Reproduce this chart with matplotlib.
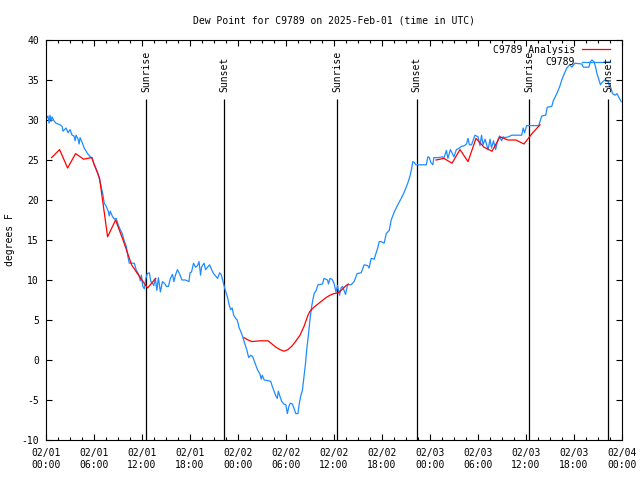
"""
Dew point time series for station C9789, obs vs analysis, with
sunrise / sunset markers. Gnuplot-like look.
"""

### Import modules
import numpy as np
import matplotlib
matplotlib.use('Agg')
import matplotlib.pyplot as plt
from matplotlib.ticker import MultipleLocator

### Observed dew point (hours since 02/01 00:00 UTC, deg F)
obs_hr = [0.00, 0.13, 0.25, 0.38, 0.50, 0.63, 0.75, 1.00, 1.25, 1.76,
          2.01, 2.13, 2.51, 2.76, 3.01, 3.26, 3.51, 3.64, 3.76, 4.01,
          4.14, 4.26, 4.52, 4.77, 5.02, 5.27, 5.52, 5.77, 6.02, 6.27,
          6.46, 6.65, 6.90, 7.09, 7.28, 7.53, 7.78, 7.90, 8.03, 8.28,
          8.53, 8.78, 9.03, 9.28, 9.53, 9.78, 10.04, 10.22, 10.41, 10.66,
          11.04, 11.29, 11.48, 11.67, 11.79, 11.92, 12.10, 12.29, 12.48, 12.67,
          12.92, 13.11, 13.30, 13.48, 13.67, 13.86, 14.05, 14.30, 14.55, 14.80,
          15.05, 15.30, 15.55, 15.81, 15.99, 16.18, 16.43, 16.68, 17.00, 17.44,
          17.87, 18.00, 18.19, 18.44, 18.69, 18.94, 19.13, 19.32, 19.44, 19.76,
          19.94, 20.20, 20.45, 20.70, 20.95, 21.20, 21.45, 21.70, 21.89, 22.08,
          22.33, 22.52, 22.70, 22.89, 23.08, 23.27, 23.46, 23.71, 23.90, 24.15,
          24.33, 24.52, 24.77, 25.09, 25.34, 25.59, 25.84, 26.09, 26.28, 26.47,
          26.72, 26.91, 27.03, 27.28, 27.85, 28.10, 28.29, 28.47, 28.73, 28.91,
          29.04, 29.23, 29.48, 29.73, 29.98, 30.17, 30.36, 30.54, 30.80, 30.98,
          31.23, 31.49, 31.67, 31.86, 32.05, 32.24, 32.43, 32.61, 32.80, 32.99,
          33.18, 33.37, 33.55, 33.74, 33.99, 34.56, 34.75, 35.19, 35.31, 35.50,
          35.75, 36.00, 36.25, 36.44, 36.56, 36.69, 36.88, 37.07, 37.44, 37.69,
          38.13, 38.51, 38.89, 39.39, 39.77, 40.21, 40.39, 40.64, 41.02, 41.46,
          41.65, 41.90, 42.27, 42.53, 42.90, 43.15, 43.53, 43.97, 44.40, 44.78,
          45.22, 45.53, 45.72, 45.85, 46.04, 46.22, 47.54, 47.73, 47.92, 48.10,
          48.36, 48.48, 49.05, 49.55, 49.73, 50.05, 50.24, 50.55, 50.99, 51.30,
          51.68, 51.93, 52.31, 52.56, 52.75, 52.93, 53.19, 53.62, 54.00, 54.25,
          54.44, 54.63, 54.88, 55.26, 55.51, 55.69, 55.94, 56.20, 56.51, 56.70,
          56.95, 57.14, 57.33, 57.83, 58.21, 58.83, 59.46, 59.65, 59.83, 60.08,
          61.59, 61.78, 61.97, 62.47, 62.66, 63.22, 63.41, 63.85, 64.22, 64.47,
          64.79, 65.10, 65.48, 65.73, 66.11, 66.98, 67.17, 67.86, 68.05, 68.24,
          68.49, 68.68, 68.87, 69.12, 69.31, 69.50, 69.87, 70.25, 70.43, 70.62,
          70.81, 71.12, 71.37, 71.62, 71.90]
obs_td = [30.5, 30.3, 30.5, 29.6, 30.6, 29.8, 30.4, 29.9, 29.6, 29.4,
          29.2, 28.6, 29.0, 28.4, 28.8, 28.1, 28.0, 27.4, 28.1, 27.6,
          27.0, 27.8, 27.2, 26.5, 26.1, 25.7, 25.4, 25.3, 24.4, 23.9,
          23.4, 22.7, 21.6, 20.8, 19.6, 19.2, 18.6, 18.0, 18.6, 18.0,
          17.6, 17.7, 16.9, 16.3, 15.8, 14.9, 14.2, 13.0, 12.1, 12.1,
          12.1, 11.2, 10.9, 10.5, 9.9, 10.6, 9.2, 8.9, 10.2, 10.8,
          10.9, 9.8, 9.6, 9.3, 10.2, 8.7, 10.3, 8.5, 9.8, 9.6,
          9.2, 9.2, 10.2, 10.7, 9.8, 10.6, 11.3, 10.8, 10.0, 10.0,
          9.8, 10.9, 11.0, 12.1, 11.6, 11.8, 12.3, 10.6, 11.6, 12.1,
          11.3, 11.6, 11.9, 11.3, 10.8, 10.5, 10.2, 10.9, 10.7, 10.0,
          9.0, 8.4, 7.8, 6.9, 6.3, 6.5, 5.6, 5.2, 5.0, 4.0,
          3.6, 3.1, 2.3, 1.3, 0.3, 0.6, 0.4, -0.3, -0.8, -1.3,
          -1.7, -2.4, -1.9, -2.5, -2.6, -2.7, -3.3, -3.8, -4.5, -4.8,
          -3.9, -4.5, -5.2, -5.5, -5.6, -6.7, -5.8, -5.4, -5.5, -6.0,
          -6.7, -6.7, -5.4, -4.4, -3.8, -2.2, -0.5, 1.5, 3.1, 5.0,
          6.5, 7.6, 8.4, 8.6, 9.4, 9.5, 10.2, 10.0, 9.5, 10.2,
          10.1, 9.6, 8.5, 9.3, 8.7, 8.1, 9.0, 9.2, 8.2, 9.4,
          9.4, 9.8, 10.8, 10.9, 11.9, 11.8, 11.5, 12.7, 12.6, 14.0,
          14.8, 14.8, 14.6, 15.8, 16.2, 17.5, 18.5, 19.4, 20.2, 21.0,
          22.1, 23.1, 24.0, 24.8, 24.7, 24.4, 24.4, 25.4, 25.3, 24.7,
          24.4, 25.3, 25.3, 25.4, 25.2, 26.2, 25.2, 26.3, 25.4, 26.3,
          26.5, 26.7, 26.8, 27.0, 27.7, 26.9, 26.9, 28.1, 27.9, 26.8,
          28.1, 26.9, 27.6, 26.3, 27.6, 26.5, 27.4, 26.3, 27.6, 28.0,
          27.4, 27.9, 27.8, 27.9, 28.1, 28.1, 28.1, 29.0, 28.4, 29.3,
          29.3, 29.9, 30.5, 30.6, 31.6, 31.7, 32.4, 33.3, 34.2, 35.0,
          35.8, 36.5, 36.9, 36.6, 37.1, 37.0, 36.6, 36.6, 37.3, 37.5,
          37.3, 36.7, 35.8, 35.0, 34.4, 34.7, 35.0, 34.9, 34.2, 34.0,
          33.3, 33.1, 33.3, 32.8, 32.3]

### Analysis dew point, three separate pieces
ana1_hr = [0.7, 1.7, 2.7, 3.7, 4.7, 5.7, 6.7, 7.7, 8.7, 9.7, 10.7, 11.7,
           12.7, 13.7]
ana1_td = [25.3, 26.3, 24.0, 25.8, 25.1, 25.3, 22.7, 15.4, 17.5, 14.8, 11.9,
           10.4, 9.0, 10.2]
ana2_hr = [24.75, 25.25, 25.75, 26.25, 26.75, 27.25, 27.75, 28.25, 28.75,
           29.25, 29.75, 30.25, 30.75, 31.25, 31.75, 32.25, 32.75, 33.0,
           33.5, 34.0, 34.5, 35.0, 35.5, 36.0, 36.5, 37.0, 37.5, 37.8]
ana2_td = [2.8, 2.5, 2.3, 2.35, 2.4, 2.4, 2.4, 2.0, 1.6, 1.3, 1.1, 1.3,
           1.75, 2.4, 3.1, 4.2, 5.6, 6.1, 6.6, 7.0, 7.4, 7.8, 8.1, 8.3,
           8.4, 8.8, 9.3, 9.5]
ana3_hr = [48.75, 49.75, 50.75, 51.75, 52.75, 53.75, 54.75, 55.75, 56.75,
           57.75, 58.75, 59.75, 60.75, 61.75]
ana3_td = [25.0, 25.2, 24.6, 26.3, 24.8, 27.7, 26.6, 26.1, 27.9, 27.5,
           27.5, 27.0, 28.3, 29.4]

### Sun times (hours since 02/01 00:00 UTC)
sunrise_hr = [12.53, 36.42, 60.41]
sunset_hr = [22.29, 46.33, 70.30]

### Axis ticks
xtick_hr = np.arange(0, 73, 6)
xtick_lab = ['02/01\n00:00', '02/01\n06:00', '02/01\n12:00', '02/01\n18:00',
             '02/02\n00:00', '02/02\n06:00', '02/02\n12:00', '02/02\n18:00',
             '02/03\n00:00', '02/03\n06:00', '02/03\n12:00', '02/03\n18:00',
             '02/04\n00:00']
ytick_val = np.arange(-10, 41, 5)

###############################################################################
### Plot figure
plt.rc('font', family='DejaVu Sans Mono', size=7)
plt.rc('axes', unicode_minus=False, linewidth=0.8, titlesize=7)

fig = plt.figure(figsize=(6.4, 4.8), dpi=100)
ax = fig.add_axes([46/640, 40/480, 576/640, 400/480])

# analysis as one broken line so it shows once in legend
ana_hr = ana1_hr + [np.nan] + ana2_hr + [np.nan] + ana3_hr
ana_td = ana1_td + [np.nan] + ana2_td + [np.nan] + ana3_td

ax.plot(ana_hr, ana_td, color='#ff0000', linewidth=0.9, zorder=3)
ax.plot(obs_hr, obs_td, color='#1e8cff', linewidth=0.9, zorder=2)

for hr in sunrise_hr:
    ax.vlines(hr, -10, 32.6, color='k', linewidth=0.9, zorder=1)
    ax.text(hr, 33.5, 'Sunrise', rotation=90, ha='center', va='bottom')
for hr in sunset_hr:
    ax.vlines(hr, -10, 32.6, color='k', linewidth=0.9, zorder=1)
    ax.text(hr, 33.5, 'Sunset', rotation=90, ha='center', va='bottom')

### gnuplot-style key (text right justified, sample to the right)
ax.text(0.918, 0.975, 'C9789 Analysis', transform=ax.transAxes,
        ha='right', va='center')
ax.plot([0.931, 0.979], [0.977, 0.977], transform=ax.transAxes,
        color='#ff0000', linewidth=0.9)
ax.text(0.918, 0.945, 'C9789', transform=ax.transAxes,
        ha='right', va='center')
ax.plot([0.931, 0.979], [0.945, 0.945], transform=ax.transAxes,
        color='#1e8cff', linewidth=0.9)

ax.set_xlim(0, 72)
ax.set_ylim(-10, 40)
ax.set_xticks(xtick_hr)
ax.set_xticklabels(xtick_lab)
ax.set_yticks(ytick_val)
ax.set_yticklabels([str(v) for v in ytick_val])
ax.xaxis.set_minor_locator(MultipleLocator(1.5))

ax.tick_params(which='both', direction='in', top=True, right=True,
               width=0.8)
ax.tick_params(which='major', length=4.5)
ax.tick_params(which='minor', length=2.5)
ax.tick_params(axis='x', pad=6)
ax.tick_params(axis='y', pad=5)

ax.set_title('Dew Point for C9789 on 2025-Feb-01 (time in UTC)', pad=12)
fig.text(10/640, 240/480, 'degrees F', rotation=90, ha='center', va='center')

plt.savefig('out.png', dpi=100)
